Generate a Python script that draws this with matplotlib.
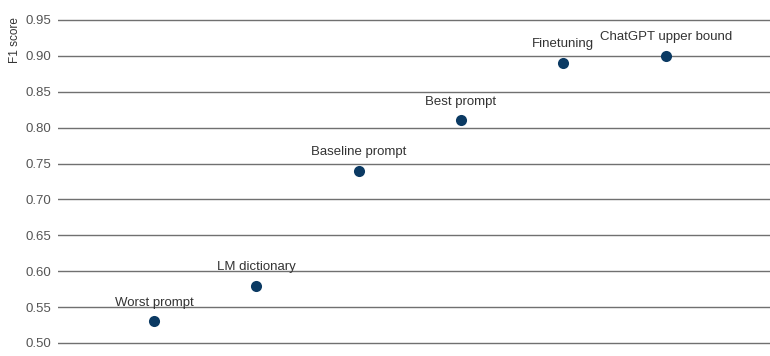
import matplotlib
matplotlib.use("Agg")
import matplotlib.pyplot as plt

categories = ["Worst prompt", "LM dictionary", "Baseline prompt", "Best prompt", "Finetuning", "ChatGPT upper bound"]
f1_scores = [0.53, 0.58, 0.74, 0.81, 0.89, 0.90]
yticks = [0.50, 0.55, 0.60, 0.65, 0.70, 0.75, 0.80, 0.85, 0.90, 0.95]

plt.rcParams['font.family'] = ['Liberation Sans', 'DejaVu Sans']

fig = plt.figure(figsize=(7.7, 3.56), dpi=100)
pad = 0.45 * 2 / 323
ax = fig.add_axes([58/770, 1-345/356, 1-58/770, (345-18)/356])

color = '#0b3a63'
xs = list(range(len(categories)))
ax.scatter(xs, f1_scores, s=64, color=color, zorder=3, linewidths=0)
for x, y, lab in zip(xs, f1_scores, categories):
    ax.annotate(lab, (x, y), xytext=(0, 13.5), textcoords='offset points',
                ha='center', va='center', fontsize=9.5, color='#333333')

ax.set_ylim(0.50 - pad, 0.95 + pad)
ax.set_xlim(-0.94, 6.02)
ax.set_yticks(yticks)
ax.set_yticklabels([f"{t:.2f}" for t in yticks])
ax.set_xticks([])
ax.tick_params(axis='y', length=0, pad=5, labelsize=9.5, labelcolor='#555555')
for s in ax.spines.values():
    s.set_visible(False)
ax.grid(axis='y', color='#707070', linewidth=1.0)
ax.set_axisbelow(True)
fig.text(15/770, 1-40/356, "F1 score", rotation=90, ha='center', va='center', fontsize=8.5, color='#333333')

fig.savefig("out.png", dpi=100)
